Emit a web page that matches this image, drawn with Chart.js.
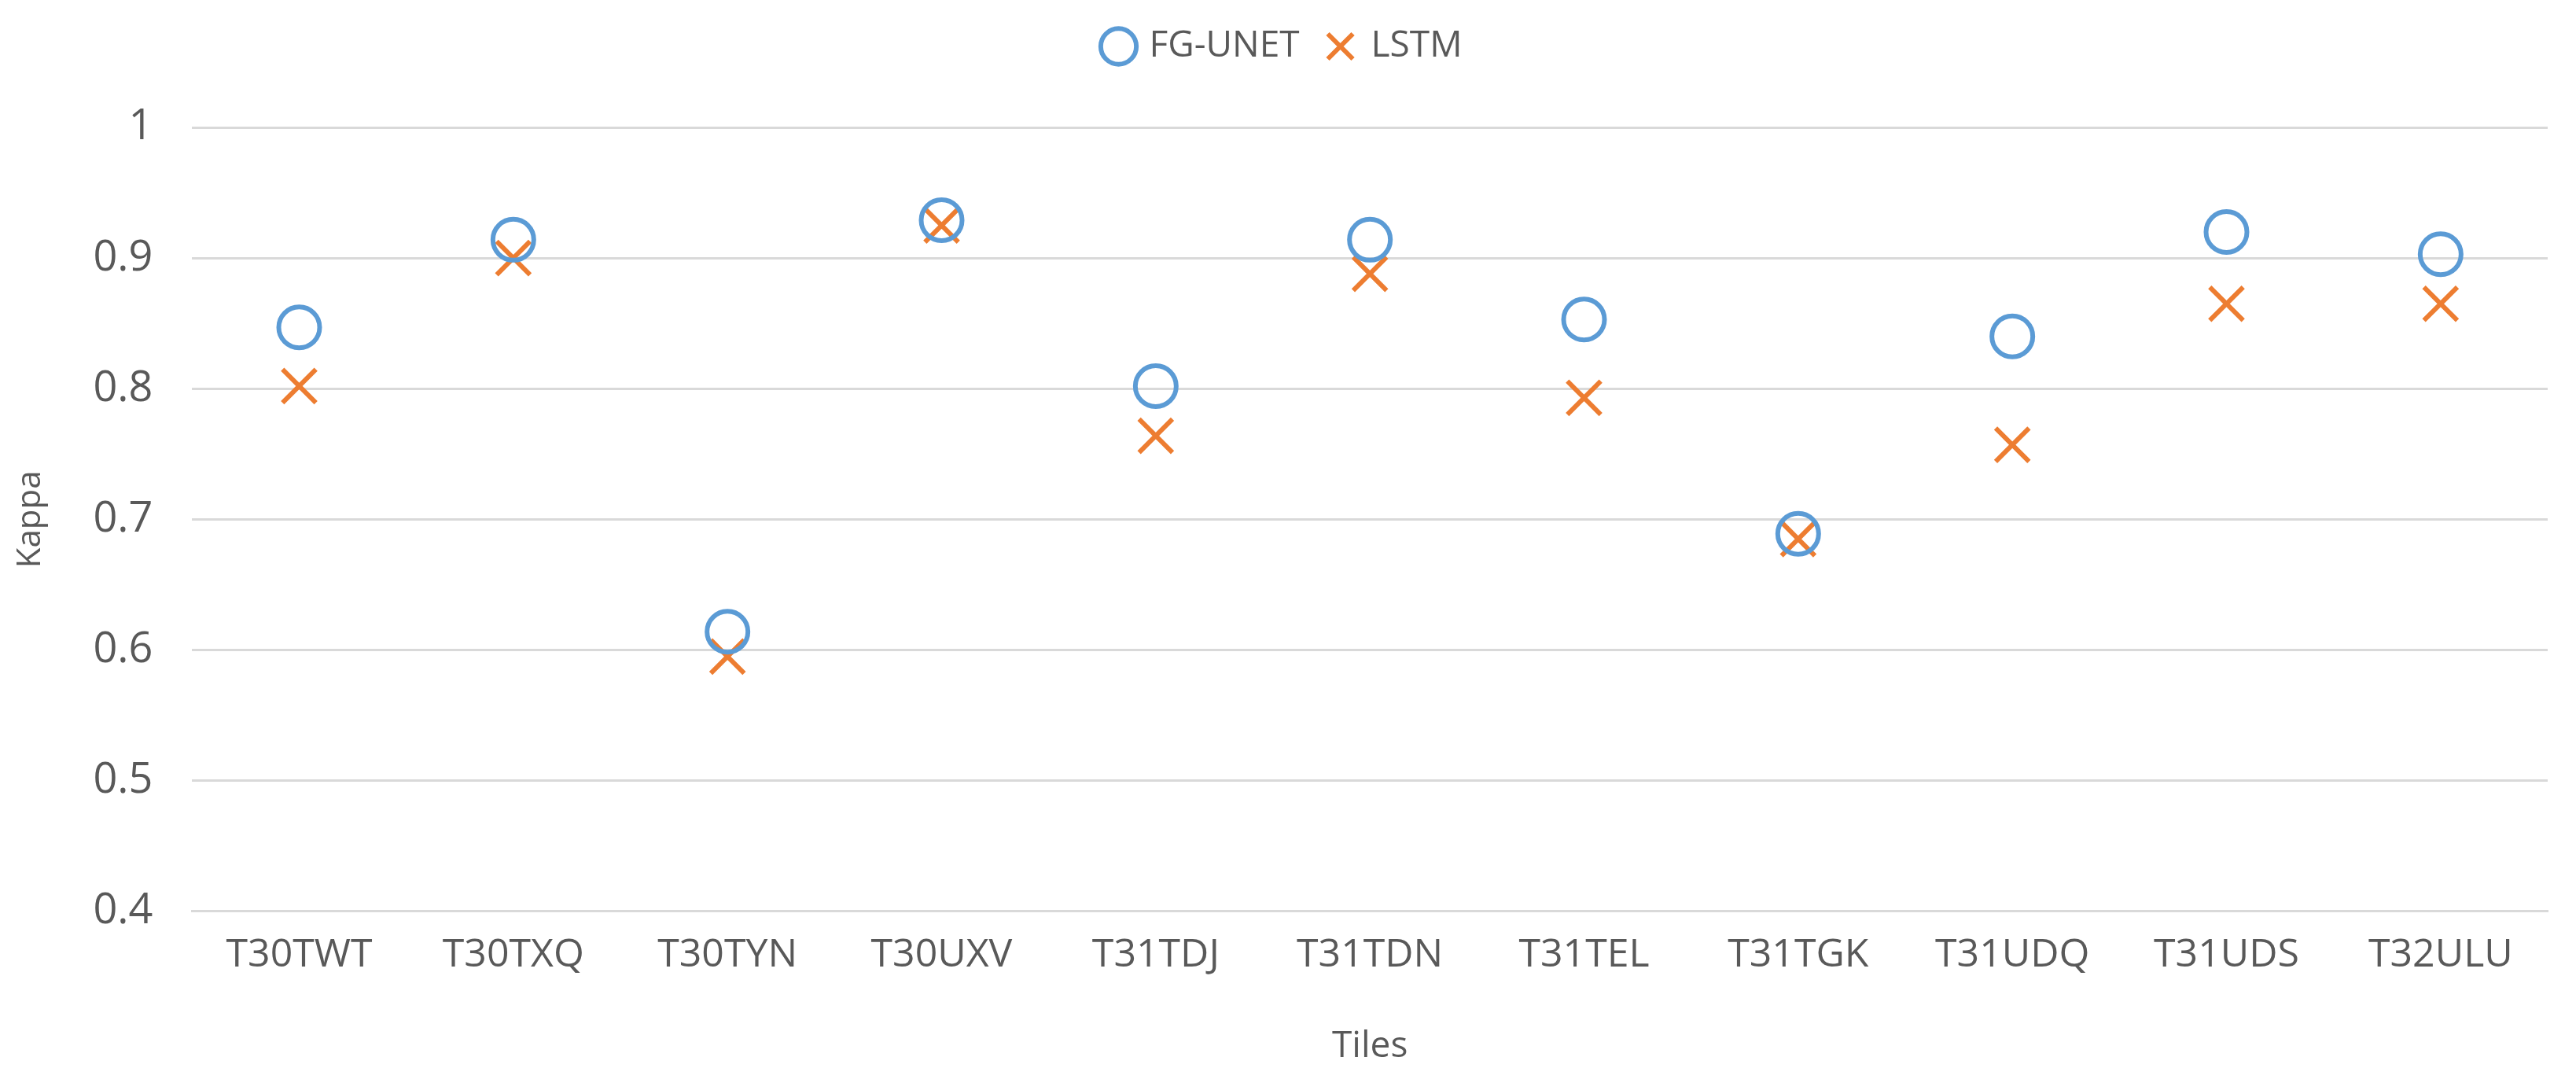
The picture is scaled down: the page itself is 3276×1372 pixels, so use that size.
<!DOCTYPE html>
<html><head><meta charset="utf-8">
<script src="https://cdn.jsdelivr.net/npm/chart.js@4"></script>
<style>html,body{margin:0;padding:0;background:#fff}#w{width:3276px;height:1372px}</style>
</head><body><div id="w"><canvas id="c"></canvas></div>
<script>
const tiles = ["T30TWT","T30TXQ","T30TYN","T30UXV","T31TDJ","T31TDN","T31TEL","T31TGK","T31UDQ","T31UDS","T32ULU"];
const fgUnet = [0.847,0.914,0.614,0.929,0.802,0.914,0.853,0.689,0.840,0.920,0.903];
const lstm = [0.802,0.900,0.595,0.925,0.764,0.888,0.793,0.685,0.757,0.865,0.865];
const yTicks = [0.4,0.5,0.6,0.7,0.8,0.9,1];
Chart.defaults.font.family = "'Open Sans','Liberation Sans',sans-serif";
Chart.defaults.color = "#595959";
const legendSpace = { id: 'legendSpace', beforeInit(c) { const f = c.legend.fit; c.legend.fit = function () { f.call(this); this.height += 70; }; } };
new Chart(document.getElementById('c'), {
  type: 'line',
  data: { labels: tiles, datasets: [
    { label: 'FG-UNET', data: fgUnet, showLine: false, pointStyle: 'circle', pointRadius: 26, pointBorderWidth: 6, borderColor: '#5B9BD5', backgroundColor: 'rgba(0,0,0,0)', pointBackgroundColor: 'rgba(0,0,0,0)' },
    { label: 'LSTM', data: lstm, showLine: false, pointStyle: 'cross', pointRotation: 45, pointRadius: 30, pointBorderWidth: 6, borderColor: '#ED7D31', backgroundColor: '#ED7D31' }
  ]},
  options: {
    responsive: true, maintainAspectRatio: false, animation: false,
    layout: { padding: { top: 0, right: 20, bottom: 10, left: 10 } },
    plugins: {
      legend: { position: 'top', labels: { usePointStyle: true, font: { size: 46 }, padding: 36, boxWidth: 32, boxHeight: 32 } },
      tooltip: { enabled: false }
    },
    scales: {
      x: { offset: true, grid: { display: false }, border: { color: '#D9D9D9', width: 3 },
           ticks: { font: { size: 50 }, padding: 18 },
           title: { display: true, text: 'Tiles', font: { size: 46 }, padding: { top: 40 } } },
      y: { min: 0.4, max: 1.0, grid: { color: '#D9D9D9', lineWidth: 3, drawTicks: false }, border: { display: false },
           afterBuildTicks: a => { a.ticks = yTicks.map(v => ({ value: v })); },
           ticks: { font: { size: 54 }, padding: 50, callback: v => String(+v.toFixed(1)) },
           title: { display: true, text: 'Kappa', font: { size: 42 } } }
    }
  },
  plugins: [legendSpace]
});
</script></body></html>
